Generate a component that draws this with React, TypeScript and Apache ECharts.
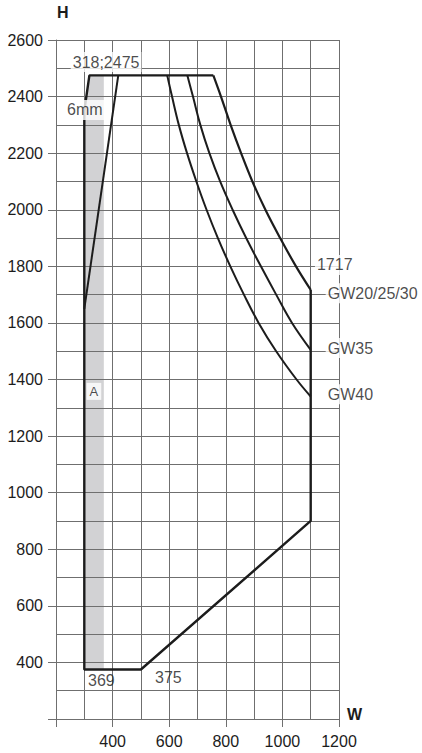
import React, { useEffect, useRef } from 'react';
import * as echarts from 'echarts';

// Outline of the envelope (W, H)
const outlineW = [756, 318, 300, 300, 500, 1100, 1100];
const outlineH = [2475, 2475, 2350, 375, 375, 900, 1717];

// GW20/25/30 limit curve
const gw20W = [1100, 1048, 992, 940, 894, 854, 817, 783, 756];
const gw20H = [1717, 1800, 1900, 2000, 2100, 2200, 2300, 2400, 2475];

// GW35 limit curve
const gw35W = [1100, 1034, 978, 924, 872, 824, 780, 742, 710, 684, 664];
const gw35H = [1505, 1600, 1700, 1800, 1900, 2000, 2100, 2200, 2300, 2400, 2475];

// GW40 limit curve
const gw40W = [1100, 1050, 978, 916, 864, 816, 772, 732, 696, 663, 634, 610, 593];
const gw40H = [1340, 1400, 1500, 1600, 1700, 1800, 1900, 2000, 2100, 2200, 2300, 2400, 2475];

// inner 6mm line
const innerW = [300, 420];
const innerH = [1650, 2475];

// grey band "A"
const bandW = [300, 300, 318, 369, 369];
const bandH = [375, 2350, 2475, 2475, 375];

// annotations
const noteText = ['318;2475', '6mm', 'A', '1717', 'GW20/25/30', 'GW35', 'GW40', '369', '375'];
const noteW = [377, 302, 334, 1115, 1153, 1153, 1153, 306, 543];
const noteH = [2522, 2353, 1358, 1805, 1705, 1511, 1348, 337, 347];
const noteAlign = ['center', 'center', 'center', 'left', 'left', 'left', 'left', 'left', 'left'];
const noteBoxed = [true, true, true, true, true, true, true, false, false];

const xTicks = { min: 200, max: 1200, step: 200 };
const yTicks = { min: 200, max: 2600, step: 200 };

const GRID = '#6f6f6f';
const INK = '#1c1c1c';
const FONT = 'Liberation Sans, Arial, sans-serif';

function pairs(w: number[], h: number[]) {
  return w.map((v, i) => [v, h[i]]);
}

export default function App() {
  const ref = useRef<HTMLDivElement>(null);
  useEffect(() => {
    if (!ref.current) return;
    const chart = echarts.init(ref.current, null, { renderer: 'svg' });
    const axisCommon = {
      type: 'value' as const,
      z: 1,
      axisLine: { show: true, onZero: false, lineStyle: { color: GRID, width: 1 } },
      axisTick: { show: true, length: 8, lineStyle: { color: GRID, width: 1 } },
      splitLine: { show: true, lineStyle: { color: GRID, width: 1 } },
      minorTick: { show: false, splitNumber: 2 },
      minorSplitLine: { show: true, lineStyle: { color: GRID, width: 1 } },
    };
    const lineStyleBase = { color: INK, width: 2 };
    const curve = (w: number[], h: number[], width: number) => ({
      type: 'line',
      z: 3,
      data: pairs(w, h),
      symbol: 'none',
      smooth: 0.4,
      lineStyle: { ...lineStyleBase, width },
    });
    chart.setOption({
      animation: false,
      backgroundColor: '#ffffff',
      grid: { left: 56, right: 83, top: 40, bottom: 34, containLabel: false },
      xAxis: {
        ...axisCommon,
        min: xTicks.min,
        max: xTicks.max,
        interval: xTicks.step,
        axisLabel: {
          fontSize: 16,
          color: INK,
          fontFamily: FONT,
          margin: 14,
          formatter: (v: number) => (v === xTicks.min ? '' : String(v)),
        },
      },
      yAxis: {
        ...axisCommon,
        min: yTicks.min,
        max: yTicks.max,
        interval: yTicks.step,
        axisLabel: {
          fontSize: 16,
          color: INK,
          fontFamily: FONT,
          margin: 13,
          formatter: (v: number) => (v === yTicks.min ? '' : String(v)),
        },
      },
      graphic: [
        { type: 'text', left: 57, top: 4, style: { text: 'H', fontSize: 16, fontWeight: 'bold', fontFamily: FONT, fill: INK } },
        { type: 'text', left: 347, top: 706, style: { text: 'W', fontSize: 16, fontWeight: 'bold', fontFamily: FONT, fill: INK } },
      ],
      series: [
        {
          type: 'custom',
          z: 0,
          clip: false,
          data: [[bandW[0], bandH[0]]],
          renderItem: (_p: any, api: any) => ({
            type: 'polygon',
            shape: { points: bandW.map((w, i) => api.coord([w, bandH[i]])) },
            style: { fill: '#d2d2d4' },
          }),
        },
        {
          type: 'line',
          z: 3,
          data: pairs(outlineW, outlineH),
          symbol: 'none',
          lineStyle: { ...lineStyleBase, width: 2.4 },
        },
        curve(gw20W, gw20H, 2.2),
        curve(gw35W, gw35H, 2),
        curve(gw40W, gw40H, 2),
        {
          type: 'line',
          z: 3,
          data: pairs(innerW, innerH),
          symbol: 'none',
          lineStyle: lineStyleBase,
        },
        {
          type: 'scatter',
          z: 5,
          symbolSize: 1,
          itemStyle: { color: 'rgba(0,0,0,0)' },
          data: noteText.map((t, i) => ({
            value: [noteW[i], noteH[i]],
            label: {
              show: true,
              position: 'inside',
              formatter: t,
              align: noteAlign[i],
              verticalAlign: 'middle',
              fontSize: t === 'A' ? 13 : 16,
              fontFamily: FONT,
              color: INK,
              backgroundColor: noteBoxed[i] ? '#ffffff' : 'transparent',
              padding: t === 'A' ? [2, 3] : [2, 2],
            },
          })),
        },
      ],
    });
    return () => chart.dispose();
  }, []);
  return (
    <div
      ref={ref}
      style={{ position: 'fixed', left: 0, top: 0, width: 422, height: 753, background: '#fff' }}
    />
  );
}
